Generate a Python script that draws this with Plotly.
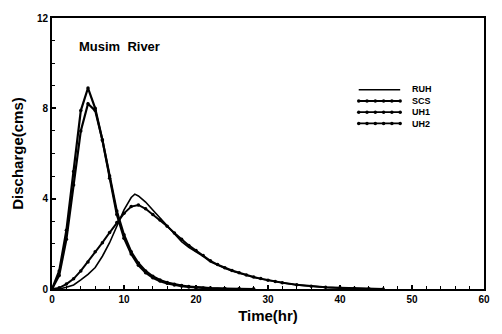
import plotly.graph_objects as go

# Unit hydrograph ordinates, Musim River (discharge in cms, time in hours)
t_scs = [0, 1, 2, 3, 4, 5, 6, 7, 8, 9, 10, 11, 12, 13, 14, 15, 16, 17, 18, 19,
         20, 21, 22, 24, 26, 28]
q_scs = [0, 0.8, 2.6, 5.2, 7.9, 8.9, 8.0, 6.6, 4.9, 3.3, 2.25, 1.55, 1.05, 0.72,
         0.5, 0.35, 0.25, 0.18, 0.13, 0.09, 0.06, 0.04, 0.03, 0.01, 0.0, 0.0]

t_uh1 = [0, 1, 2, 3, 4, 5, 6, 7, 8, 9, 10, 11, 12, 13, 14, 15, 16, 17, 18, 19,
         20, 22, 24, 26, 28]
q_uh1 = [0, 0.6, 2.2, 4.6, 7.0, 8.2, 7.9, 6.6, 5.0, 3.45, 2.4, 1.65, 1.15, 0.8,
         0.56, 0.4, 0.29, 0.21, 0.15, 0.11, 0.08, 0.04, 0.02, 0.01, 0.0]

t_ruh = [0, 1, 2, 3, 4, 5, 6, 7, 8, 9, 10, 11, 11.5, 12, 13, 14, 15, 16, 17, 18,
         19, 20, 21, 22, 23, 24, 25, 26, 27, 28, 29, 30, 31, 32, 34, 36, 38, 40,
         42, 44, 46]
q_ruh = [0, 0.0, 0.08, 0.18, 0.4, 0.65, 0.95, 1.45, 2.05, 2.8, 3.5, 4.05, 4.2,
         4.12, 3.85, 3.5, 3.15, 2.8, 2.42, 2.1, 1.85, 1.65, 1.45, 1.2, 1.05, 0.92,
         0.8, 0.7, 0.6, 0.52, 0.44, 0.38, 0.33, 0.28, 0.18, 0.12, 0.07, 0.04,
         0.02, 0.01, 0.0]

t_uh2 = [0, 1, 2, 3, 4, 5, 6, 7, 8, 9, 10, 11, 12, 13, 14, 15, 16, 17, 18, 19,
         20, 21, 22, 23, 24, 25, 26, 27, 28, 29, 30, 31, 32, 34, 36, 38, 40, 42,
         44, 46]
q_uh2 = [0, 0.05, 0.22, 0.45, 0.8, 1.2, 1.65, 2.05, 2.5, 2.95, 3.35, 3.65, 3.72,
         3.55, 3.3, 3.05, 2.78, 2.48, 2.2, 1.93, 1.7, 1.48, 1.25, 1.08, 0.94,
         0.82, 0.72, 0.62, 0.53, 0.46, 0.39, 0.33, 0.28, 0.19, 0.12, 0.08, 0.05,
         0.03, 0.01, 0.0]

series_names = ["RUH", "SCS", "UH1", "UH2"]
x_ticks = [0, 10, 20, 30, 40, 50, 60]
y_ticks = [0, 4, 8, 12]

INK = "black"
FONT = "Liberation Sans"

fig = go.Figure()

fig.add_trace(go.Scatter(x=t_ruh, y=q_ruh, mode="lines", name="RUH",
                         line=dict(color=INK, width=1.6)))
fig.add_trace(go.Scatter(x=t_scs, y=q_scs, mode="lines+markers", name="SCS",
                         line=dict(color=INK, width=2.2),
                         marker=dict(color=INK, size=3.5)))
fig.add_trace(go.Scatter(x=t_uh1, y=q_uh1, mode="lines+markers", name="UH1",
                         line=dict(color=INK, width=2.2),
                         marker=dict(color=INK, size=3.5)))
fig.add_trace(go.Scatter(x=t_uh2, y=q_uh2, mode="lines+markers", name="UH2",
                         line=dict(color=INK, width=2.0),
                         marker=dict(color=INK, size=3.5)))

# Hand-drawn key on an overlay axis spanning the plot area (0..1 both ways)
KEY_FONT = 9
plot_h = 334 - 13 - 38
row_step = 1.3 * KEY_FONT / plot_h
key_mid = 0.673
key_rows = [key_mid + (1.5 - i) * row_step for i in range(len(series_names))]
key_x0, key_x1 = 0.71, 0.806
for i, name in enumerate(series_names):
    dotted = name != "RUH"
    n = 6
    xs = [key_x0 + (key_x1 - key_x0) * k / (n - 1) for k in range(n)]
    ys = [key_rows[i]] * n
    fig.add_trace(go.Scatter(
        x=xs, y=ys, xaxis="x2", yaxis="y2", showlegend=False,
        mode="lines+markers" if dotted else "lines",
        line=dict(color=INK, width=1.8 if dotted else 1.4),
        marker=dict(color=INK, size=3.5), hoverinfo="skip"))

fig.add_annotation(x=0.829, y=key_mid, xref="x2", yref="y2",
                   text="<br>".join(series_names), showarrow=False,
                   xanchor="left", yanchor="middle", align="left",
                   font=dict(family=FONT, size=KEY_FONT, color=INK,
                             weight="bold"))

fig.add_annotation(x=0.059, y=0.894, xref="x2", yref="y2", text="Musim  River",
                   showarrow=False, xanchor="left", yanchor="middle",
                   font=dict(family=FONT, size=13, color=INK, weight="bold"))

fig.update_layout(
    width=502, height=334,
    margin=dict(l=52, r=12, t=13, b=38),
    paper_bgcolor="white", plot_bgcolor="white",
    showlegend=False,
    xaxis=dict(range=[0, 60], tickvals=x_ticks, showgrid=False, zeroline=False,
               showline=True, linecolor=INK, linewidth=2, mirror=True,
               ticks="inside", ticklen=4, tickwidth=1.5, tickcolor=INK,
               minor=dict(dtick=2, ticks="inside", ticklen=3, tickwidth=1.2,
                          tickcolor=INK),
               tickfont=dict(family=FONT, size=10, color=INK, weight="bold"),
               title=dict(text="Time(hr)", standoff=6,
                          font=dict(family=FONT, size=15, color=INK,
                                    weight="bold"))),
    yaxis=dict(range=[0, 12], tickvals=y_ticks, showgrid=False, zeroline=False,
               showline=True, linecolor=INK, linewidth=2, mirror=True,
               ticks="inside", ticklen=4, tickwidth=1.5, tickcolor=INK,
               minor=dict(dtick=1, ticks="inside", ticklen=3, tickwidth=1.2,
                          tickcolor=INK),
               tickfont=dict(family=FONT, size=10, color=INK, weight="bold"),
               title=dict(text="Discharge(cms)", standoff=10,
                          font=dict(family=FONT, size=15, color=INK,
                                    weight="bold"))),
    xaxis2=dict(range=[0, 1], overlaying="x", visible=False, fixedrange=True),
    yaxis2=dict(range=[0, 1], overlaying="y", visible=False, fixedrange=True),
)

fig.write_html("out.html")
